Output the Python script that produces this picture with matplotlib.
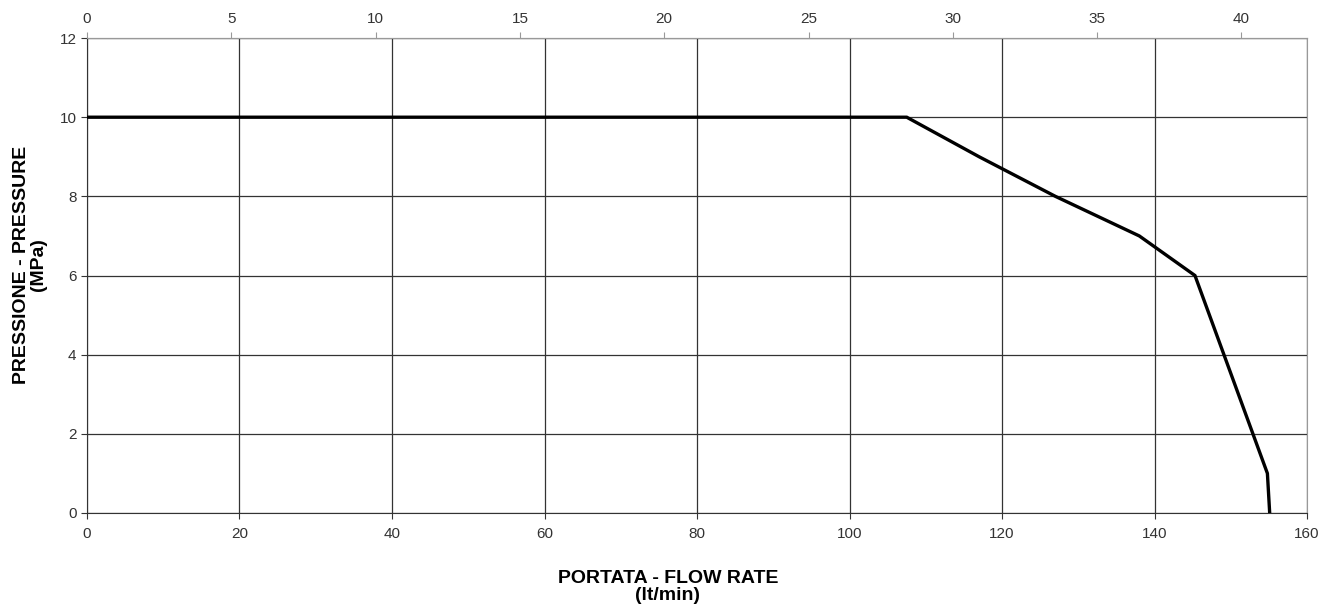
import matplotlib.pyplot as plt

plt.rcParams['font.family'] = ['Liberation Sans', 'DejaVu Sans']

# flow rate (lt/min) vs pressure (MPa)
flow = [0, 107.5, 117, 127, 138, 145.3, 154.8, 155.1]
pressure = [10, 10, 9, 8, 7, 6, 1, 0]

x_ticks = [0, 20, 40, 60, 80, 100, 120, 140, 160]
y_ticks = [0, 2, 4, 6, 8, 10, 12]
gpm_ticks = [0, 5, 10, 15, 20, 25, 30, 35, 40]

LT_PER_GAL = 3.785

fig = plt.figure(figsize=(13.24, 6.04), dpi=100)
ax = fig.add_axes([0.0657, 0.1507, 0.9215, 0.7863])

ax.plot(flow, pressure, color='black', lw=2.4, solid_joinstyle='miter', zorder=3)

ax.set_xlim(0, 160)
ax.set_ylim(0, 12)
ax.set_xticks(x_ticks)
ax.set_yticks(y_ticks)
ax.grid(True, color='#333333', lw=0.9)
ax.tick_params(labelsize=11, colors='#333333', length=4)
ax.tick_params(axis='x', pad=6)

for s in ['top', 'right']:
    ax.spines[s].set_color('#999999')
for s in ['left', 'bottom']:
    ax.spines[s].set_color('#333333')

top = ax.secondary_xaxis('top', functions=(lambda x: x / LT_PER_GAL, lambda g: g * LT_PER_GAL))
top.set_xticks(gpm_ticks)
top.tick_params(labelsize=11, colors='#999999', labelcolor='#333333', length=4, pad=5)
top.spines['top'].set_color('#999999')

fig.text(668 / 1324, 1 - 587 / 604, 'PORTATA - FLOW RATE\n(lt/min)', ha='center', va='center',
         fontsize=14, fontweight='bold', linespacing=1.0)
fig.text(30 / 1324, 1 - 265 / 604, 'PRESSIONE - PRESSURE\n(MPa)', ha='center', va='center',
         rotation=90, fontsize=14, fontweight='bold', linespacing=1.0)

fig.savefig('out.png', dpi=100)
